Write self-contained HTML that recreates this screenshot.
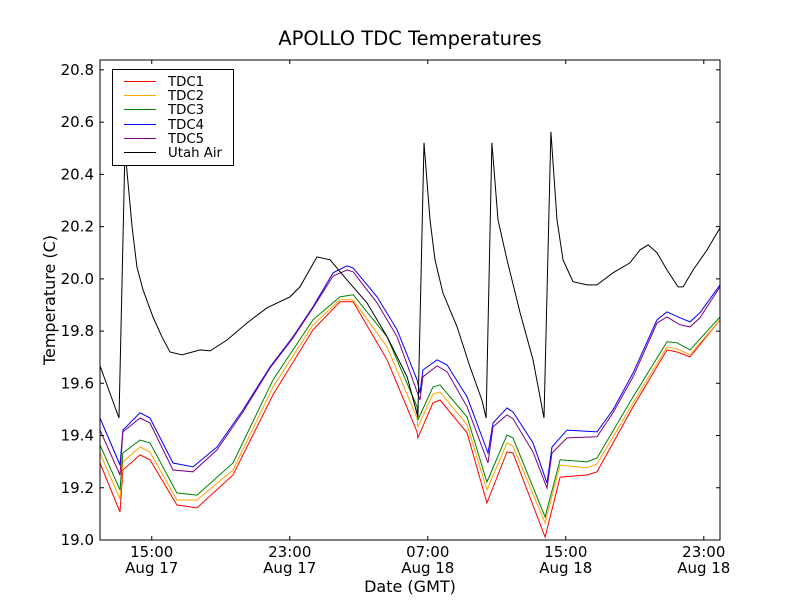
<!DOCTYPE html>
<html><head><meta charset="utf-8"><style>
body{margin:0;background:#fff;}
svg{display:block;font-family:"DejaVu Sans","Liberation Sans",sans-serif;}
</style></head><body>
<svg id="chart" width="800" height="600" viewBox="0 0 800 600">
<rect width="800" height="600" fill="#fff"/>
<text x="410" y="45" font-size="19.5" text-anchor="middle">APOLLO TDC Temperatures</text>
<g id="plot"></g>
<rect x="100" y="60" width="620" height="480" fill="none" stroke="#000" stroke-width="1"/>
<g id="axes"></g>
<text x="410" y="592" font-size="16" text-anchor="middle">Date (GMT)</text>
<text transform="translate(55,300) rotate(-90)" font-size="16" text-anchor="middle">Temperature (C)</text>
<g id="legend"></g>
</svg>
<script>
const timesAir=[12.00,13.10,13.45,13.57,13.86,14.14,14.49,15.07,15.59,16.06,16.75,17.80,18.38,19.36,20.52,21.68,23.01,23.59,24.58,25.33,26.32,27.48,28.64,29.80,30.43,30.78,31.13,31.42,31.88,32.70,33.45,34.14,34.38,34.72,35.07,35.59,36.35,37.10,37.74,38.14,38.49,38.84,39.42,40.23,40.81,41.74,42.72,43.30,43.77,44.29,44.87,45.51,45.80,46.38,47.19,47.94];
const valuesAir=[19.667,19.467,20.50,20.406,20.199,20.046,19.958,19.854,19.778,19.720,19.709,19.728,19.724,19.766,19.831,19.889,19.931,19.969,20.084,20.073,19.996,19.908,19.778,19.625,19.471,20.521,20.226,20.073,19.946,19.816,19.663,19.536,19.467,20.521,20.226,20.073,19.870,19.690,19.467,20.563,20.226,20.073,19.989,19.977,19.977,20.023,20.061,20.111,20.130,20.100,20.034,19.969,19.969,20.034,20.111,20.195];
const timesBP=[12.00,13.16,13.33,14.32,14.90,16.23,17.39,18.78,20.29,21.86,23.19,24.35,25.51,26.32,26.67,28.06,29.22,30.38,30.55,30.72,31.54,32.12,33.28,34.49,34.78,35.59,35.94,37.10,37.91,38.20,39.07,40.81,41.74,42.90,44.29,44.87,45.62,46.20,46.78,47.94];
const valuesTDC4=[19.467,19.287,19.421,19.487,19.467,19.295,19.280,19.356,19.498,19.663,19.778,19.893,20.023,20.050,20.042,19.931,19.805,19.613,19.563,19.651,19.690,19.670,19.548,19.333,19.448,19.506,19.490,19.372,19.218,19.356,19.421,19.414,19.498,19.640,19.843,19.874,19.851,19.835,19.870,19.977];
const valuesTDC5=[19.421,19.249,19.414,19.467,19.448,19.268,19.261,19.345,19.490,19.659,19.774,19.889,20.011,20.034,20.027,19.908,19.778,19.567,19.536,19.625,19.667,19.644,19.510,19.295,19.433,19.479,19.464,19.337,19.199,19.333,19.391,19.395,19.487,19.625,19.831,19.854,19.824,19.816,19.851,19.969];
const timesGOR=[12.00,13.16,13.33,14.32,14.90,16.46,17.62,19.71,22.03,24.35,25.91,26.67,28.64,30.38,30.43,31.30,31.71,33.28,34.43,35.59,35.94,37.80,38.67,40.23,40.81,42.90,44.87,45.45,46.20,47.94];
const valuesTDC3=[19.364,19.192,19.333,19.383,19.372,19.180,19.172,19.295,19.613,19.843,19.931,19.939,19.778,19.510,19.460,19.586,19.594,19.471,19.222,19.402,19.391,19.088,19.307,19.299,19.314,19.548,19.759,19.755,19.728,19.854];
const valuesTDC2=[19.333,19.157,19.299,19.356,19.337,19.153,19.153,19.268,19.586,19.824,19.920,19.920,19.739,19.467,19.433,19.559,19.567,19.441,19.192,19.372,19.360,19.065,19.287,19.276,19.291,19.525,19.739,19.732,19.709,19.843];
const valuesTDC1=[19.295,19.107,19.268,19.326,19.307,19.134,19.123,19.249,19.556,19.805,19.912,19.912,19.690,19.414,19.391,19.525,19.536,19.410,19.142,19.337,19.333,19.011,19.241,19.249,19.261,19.510,19.728,19.720,19.701,19.843];
const yTicks=[19.0,19.2,19.4,19.6,19.8,20.0,20.2,20.4,20.6,20.8];
const xTickHours=[15,23,31,39,47];
const xTickTimes=["15:00","23:00","07:00","15:00","23:00"];
const xTickDates=["Aug 17","Aug 17","Aug 18","Aug 18","Aug 18"];

const X0=100,X1=720,Y0=540,Y1=60,TMIN=12,TMAX=47.94,VMIN=19.0,VMAX=20.838;
function xs(t){return X0+(t-TMIN)/(TMAX-TMIN)*(X1-X0);}
function ys(v){return Y0-(v-VMIN)/(VMAX-VMIN)*(Y0-Y1);}
const NS="http://www.w3.org/2000/svg";
const plot=document.getElementById('plot');
const axes=document.getElementById('axes');
const legend=document.getElementById('legend');

const series=[
 {name:"TDC1",color:"#ff0000",t:timesGOR,v:valuesTDC1,key:"tdc1"},
 {name:"TDC2",color:"#ffa500",t:timesGOR,v:valuesTDC2,key:"tdc2"},
 {name:"TDC3",color:"#008000",t:timesGOR,v:valuesTDC3,key:"tdc3"},
 {name:"TDC4",color:"#0000ff",t:timesBP,v:valuesTDC4,key:"tdc4"},
 {name:"TDC5",color:"#800080",t:timesBP,v:valuesTDC5,key:"tdc5"},
 {name:"Utah Air",color:"#000000",t:timesAir,v:valuesAir,key:"utah-air"}
];
series.forEach(s=>{
 const p=document.createElementNS(NS,'polyline');
 p.setAttribute('points',s.t.map((t,i)=>xs(t).toFixed(1)+','+ys(s.v[i]).toFixed(1)).join(' '));
 p.setAttribute('fill','none');p.setAttribute('stroke',s.color);p.setAttribute('stroke-width','1');
 
 
 plot.appendChild(p);
});

yTicks.forEach(v=>{
 const y=ys(v);
 const l=document.createElementNS(NS,'path');
 l.setAttribute('d',`M${X0} ${y}h4M${X1} ${y}h-4`);l.setAttribute('stroke','#000');
 
 
 axes.appendChild(l);
 const tx=document.createElementNS(NS,'text');
 tx.setAttribute('x',X0-6);tx.setAttribute('y',y+5);tx.setAttribute('text-anchor','end');tx.setAttribute('font-size','15');
 tx.textContent=v.toFixed(1);
 
 
 axes.appendChild(tx);
});
xTickHours.forEach((h,i)=>{
 const x=xs(h);
 const l=document.createElementNS(NS,'path');
 l.setAttribute('d',`M${x} ${Y0}v-4M${x} ${Y1}v4`);l.setAttribute('stroke','#000');
 
 
 axes.appendChild(l);
 [[xTickTimes[i],557],[xTickDates[i],573]].forEach(([s,y])=>{
  const tx=document.createElementNS(NS,'text');
  tx.setAttribute('x',x);tx.setAttribute('y',y);tx.setAttribute('text-anchor','middle');tx.setAttribute('font-size','15');
  tx.textContent=s;
  
  
  axes.appendChild(tx);
 });
});

const box=document.createElementNS(NS,'rect');
box.setAttribute('x',112.5);box.setAttribute('y',69.5);box.setAttribute('width',121);box.setAttribute('height',96);
box.setAttribute('fill','#fff');box.setAttribute('stroke','#000');


legend.appendChild(box);
series.forEach((s,i)=>{
 const y=Math.round(81+i*14.2);
 const l=document.createElementNS(NS,'rect');
 l.setAttribute('x',124);l.setAttribute('y',y);l.setAttribute('width',32);l.setAttribute('height',1);l.setAttribute('fill',s.color);
 
 
 legend.appendChild(l);
 const tx=document.createElementNS(NS,'text');
 tx.setAttribute('x',168);tx.setAttribute('y',y+5);tx.setAttribute('font-size','13.3');
 tx.textContent=s.name;
 
 
 legend.appendChild(tx);
});
</script>
</body></html>
